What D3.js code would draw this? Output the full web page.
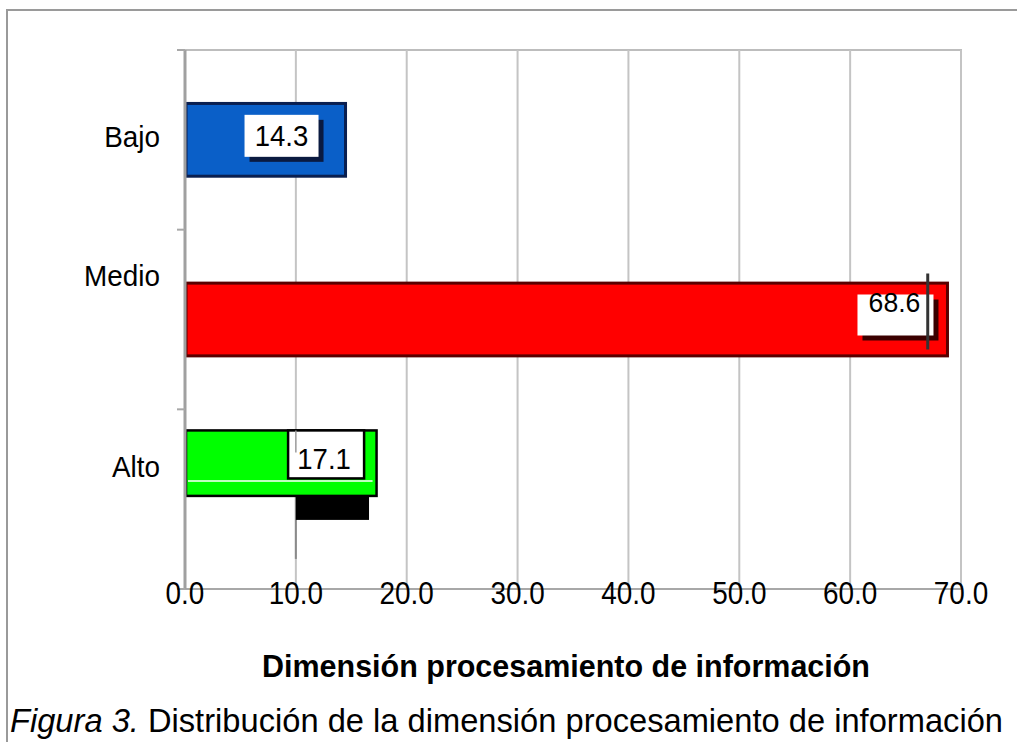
<!DOCTYPE html>
<html>
<head>
<meta charset="utf-8">
<script src="https://cdn.jsdelivr.net/npm/d3@7"></script>
<style>
  html, body { margin: 0; padding: 0; background: #fff; }
  svg { display: block; }
  text { font-family: "Liberation Sans", Arial, sans-serif; }
</style>
</head>
<body>
<svg id="chart" width="1017" height="742"></svg>
<script>
// ---- data ----
const categories = ["Bajo", "Medio", "Alto"];
const values = [14.3, 68.6, 17.1];
const valueLabels = ["14.3", "68.6", "17.1"];
const xTicks = [0, 10, 20, 30, 40, 50, 60, 70];
const xTickLabels = ["0.0", "10.0", "20.0", "30.0", "40.0", "50.0", "60.0", "70.0"];
const axisTitle = "Dimensión  procesamiento  de información";
const captionItalic = "Figura 3.";
const captionRest = " Distribución de la dimensión procesamiento  de información";

// ---- styles ----
const fills = ["#0a5fc8", "#ff0000", "#00ff00"];
const edges = ["#0a1f50", "#5a0000", "#000000"];

const svg = d3.select("#chart");
const W = 1017, H = 742;
const plot = { left: 185, right: 961, top: 50, bottom: 589 };

const x = d3.scaleLinear().domain([0, 70]).range([plot.left, plot.right]);
const y = d3.scaleBand().domain(categories).range([plot.top, plot.bottom]).padding(0);

// outer frame
svg.append("path")
  .attr("d", `M7,${H} L7,10 L${W},10`)
  .attr("fill", "none").attr("stroke", "#9a9a9a").attr("stroke-width", 2);

// plot border + gridlines
const g = svg.append("g");
g.append("rect")
  .attr("x", plot.left).attr("y", plot.top)
  .attr("width", plot.right - plot.left).attr("height", plot.bottom - plot.top)
  .attr("fill", "#fff").attr("stroke", "#bdbdbd").attr("stroke-width", 2);

g.selectAll("line.grid").data(xTicks.slice(1)).join("line")
  .attr("class", "grid")
  .attr("x1", d => x(d)).attr("x2", d => x(d))
  .attr("y1", plot.top).attr("y2", plot.bottom)
  .attr("stroke", "#c4c4c4").attr("stroke-width", 2);

// bars
const barFrac = 0.405;
const altoShift = { Bajo: 0, Medio: 0, Alto: -36 };
const altoH = { Bajo: 1, Medio: 1, Alto: 0.9 };
const barY = c => y(c) + y.bandwidth() / 2 - (y.bandwidth() * barFrac * altoH[c]) / 2 + altoShift[c];
const barH = c => y.bandwidth() * barFrac * altoH[c];

// Alto: shadow below, and darker line at 10
const ia = 2;
const ca = categories[ia];
g.append("line")
  .attr("x1", x(10)).attr("x2", x(10))
  .attr("y1", barY(ca)).attr("y2", barY(ca) + barH(ca) + 63)
  .attr("stroke", "#8a8a8a").attr("stroke-width", 2);

g.selectAll("rect.bar").data(categories).join("rect")
  .attr("class", "bar")
  .attr("x", x(0) + 1)
  .attr("y", c => barY(c))
  .attr("width", (c, i) => x(values[i]) - x(0) + 1)
  .attr("height", c => barH(c))
  .attr("fill", (c, i) => fills[i])
  .attr("stroke", (c, i) => edges[i])
  .attr("stroke-width", (c, i) => i === 2 ? 2.5 : 3);

// Alto white line inside bar
g.append("line")
  .attr("x1", x(0) + 3).attr("x2", x(values[ia]) - 2)
  .attr("y1", barY(ca) + barH(ca) - 15).attr("y2", barY(ca) + barH(ca) - 15)
  .attr("stroke", "#ffffff").attr("stroke-width", 1.5);
// Alto black shadow block
g.append("rect")
  .attr("x", x(10)).attr("y", barY(ca) + barH(ca))
  .attr("width", x(16.6) - x(10)).attr("height", 24)
  .attr("fill", "#000");

// value label boxes
const boxW = 74, boxH = 42;
// Bajo
(function () {
  const i = 0, c = categories[i];
  const cx = x(values[i]) - 62, cy = y(c) + y.bandwidth() / 2 - 4;
  g.append("rect").attr("x", cx - boxW / 2 + 5).attr("y", cy - boxH / 2 + 5)
    .attr("width", boxW).attr("height", boxH).attr("fill", "#0a1a40");
  g.append("rect").attr("x", cx - boxW / 2).attr("y", cy - boxH / 2)
    .attr("width", boxW).attr("height", boxH).attr("fill", "#fff");
  g.append("text").attr("x", cx).attr("y", cy + 10).attr("text-anchor", "middle")
    .attr("font-size", 29)
    .attr("transform", `translate(${cx},0) scale(0.95,1) translate(${-cx},0)`)
    .text(valueLabels[i]);
})();
// Medio
(function () {
  const i = 1, c = categories[i];
  const cx = x(values[i]) - 51, cy = y(c) + y.bandwidth() / 2 - 5;
  g.append("rect").attr("x", cx - 37 + 5).attr("y", cy - 20 + 5)
    .attr("width", 76).attr("height", 41).attr("fill", "#3a0000");
  g.append("rect").attr("x", cx - 37).attr("y", cy - 20)
    .attr("width", 76).attr("height", 41).attr("fill", "#fff");
  g.append("text").attr("x", cx).attr("y", cy - 2).attr("text-anchor", "middle")
    .attr("font-size", 28)
    .attr("transform", `translate(${cx},0) scale(0.95,1) translate(${-cx},0)`)
    .text(valueLabels[i]);
  g.append("line").attr("x1", x(67)).attr("x2", x(67))
    .attr("y1", cy - 41).attr("y2", cy + 35)
    .attr("stroke", "#333").attr("stroke-width", 3);
})();
// Alto
(function () {
  const i = 2, c = categories[i];
  const bx = x(9.3), by = barY(c);
  g.append("rect").attr("x", bx).attr("y", by)
    .attr("width", 76).attr("height", 48)
    .attr("fill", "#fff").attr("stroke", "#000").attr("stroke-width", 2.5);
  g.append("line").attr("x1", x(10)).attr("x2", x(10))
    .attr("y1", by).attr("y2", by + 22)
    .attr("stroke", "#9a9a9a").attr("stroke-width", 1.5);
  const tx = bx + 36;
  g.append("text").attr("x", tx).attr("y", by + 39).attr("text-anchor", "middle")
    .attr("font-size", 29)
    .attr("transform", `translate(${tx},0) scale(0.95,1) translate(${-tx},0)`)
    .text(valueLabels[i]);
})();

// axes lines (drawn on top)
g.append("line").attr("x1", plot.left).attr("x2", plot.right)
  .attr("y1", plot.bottom).attr("y2", plot.bottom)
  .attr("stroke", "#a8a8a8").attr("stroke-width", 2);
g.append("line").attr("x1", plot.left).attr("x2", plot.left)
  .attr("y1", plot.top).attr("y2", plot.bottom)
  .attr("stroke", "#a0a0a0").attr("stroke-width", 3);

// y ticks
const yTickPos = [plot.top, y("Medio"), y("Alto"), plot.bottom];
g.selectAll("line.yt").data(yTickPos).join("line")
  .attr("class", "yt")
  .attr("x1", plot.left - 8).attr("x2", plot.left)
  .attr("y1", d => d).attr("y2", d => d)
  .attr("stroke", "#a8a8a8").attr("stroke-width", 2);

// category labels
const catLabelDy = { Bajo: -4, Medio: -44, Alto: -33 };
g.selectAll("text.cat").data(categories).join("text")
  .attr("class", "cat")
  .attr("x", 160)
  .attr("y", c => y(c) + y.bandwidth() / 2 + catLabelDy[c] + 11)
  .attr("text-anchor", "end")
  .attr("font-size", 30)
  .attr("transform", "translate(160,0) scale(0.93,1) translate(-160,0)")
  .text(c => c);

// x tick labels
g.selectAll("text.xt").data(xTicks).join("text")
  .attr("class", "xt")
  .attr("x", d => x(d))
  .attr("y", 604)
  .attr("text-anchor", "middle")
  .attr("font-size", 31)
  .attr("transform", d => `translate(${x(d)},0) scale(0.9,1) translate(${-x(d)},0)`)
  .text((d, i) => xTickLabels[i]);

// axis title
svg.append("text")
  .attr("x", 262).attr("y", 677)
  .attr("font-size", 31).attr("font-weight", "bold")
  .attr("textLength", 608).attr("lengthAdjust", "spacingAndGlyphs")
  .text(axisTitle);

// caption
const cap = svg.append("text")
  .attr("x", 10).attr("y", 732)
  .attr("font-size", 33)
  .attr("textLength", 993).attr("lengthAdjust", "spacingAndGlyphs");
cap.append("tspan").attr("font-style", "italic").text(captionItalic);
cap.append("tspan").text(captionRest);
</script>
</body>
</html>
